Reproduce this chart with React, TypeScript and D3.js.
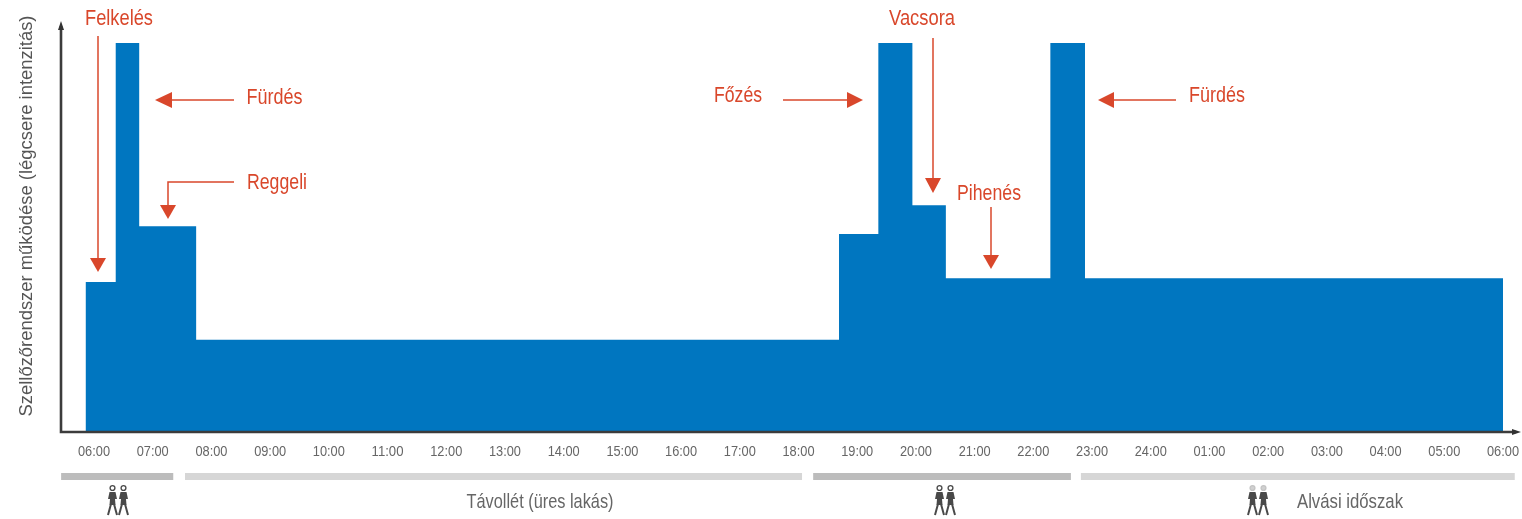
import React from "react";
import * as d3 from "d3";

// Hours after the 06:00 tick at which each level begins
const stepHours = [-0.14, 0.37, 0.77, 1.74, 12.69, 13.36, 13.94, 14.51, 16.29, 16.88, 24];
// Ventilation intensity, % of maximum
const stepLevels = [38.4, 100, 52.8, 23.5, 50.8, 100, 58.2, 39.4, 100, 39.4, 39.4];
const tickLabels = [
  "06:00", "07:00", "08:00", "09:00", "10:00", "11:00", "12:00", "13:00", "14:00", "15:00", "16:00", "17:00",
  "18:00", "19:00", "20:00", "21:00", "22:00", "23:00", "24:00", "01:00", "02:00", "03:00", "04:00", "05:00", "06:00",
];
const periodNames = ["present", "away", "present", "sleep"];
const periodStart = [-0.56, 1.55, 12.25, 16.81];
const periodEnd = [1.35, 12.06, 16.64, 24.2];

const BLUE = "#0076c0";
const RED = "#d9472b";
const FONT = "'Liberation Sans', sans-serif";

const x = d3.scaleLinear().domain([0, 24]).range([94, 1503]);
const y = d3.scaleLinear().domain([0, 100]).range([431, 43]);

function Person({ cx, light }: { cx: number; light?: boolean }) {
  const c = "#4a4a4a";
  return (
    <g transform={`translate(${cx},485)`}>
      <circle cx={0} cy={3} r={2.4} fill={light ? "#d0d0d0" : "#fff"} stroke={light ? "#c4c4c4" : c} strokeWidth={1.4} />
      <path d="M-3 7 H3 L4.5 14 L2.5 14 L3 20 H-3 L-2.5 14 L-4.5 14 Z" fill={c} />
      <path d="M-1.5 19 L-4.5 30 M1.5 19 L4.5 30" fill="none" stroke={c} strokeWidth={2} />
    </g>
  );
}

function Pair({ cx, light }: { cx: number; light?: boolean }) {
  return (
    <g>
      <Person cx={cx - 5.5} light={light} />
      <Person cx={cx + 5.5} light={light} />
    </g>
  );
}

function Arrow({ d, head }: { d: string; head: string }) {
  return (
    <g>
      <path d={d} fill="none" stroke={RED} strokeWidth={1.5} />
      <path d={head} fill={RED} />
    </g>
  );
}

function Note({ text, cx, cy, w }: { text: string; cx: number; cy: number; w: number }) {
  return (
    <text x={cx} y={cy + 8} textAnchor="middle" fontSize={22} fill={RED} textLength={w} lengthAdjust="spacingAndGlyphs">
      {text}
    </text>
  );
}

export default function App() {
  const data = stepHours.map((h, i) => ({ h, v: stepLevels[i] }));
  const area = d3
    .area<{ h: number; v: number }>()
    .x((d) => x(d.h))
    .y0(y(0))
    .y1((d) => y(d.v))
    .curve(d3.curveStepAfter);

  return (
    <svg
      width={1522}
      height={519}
      viewBox="0 0 1522 519"
      style={{ position: "absolute", left: 0, top: 0, background: "#fff" }}
      fontFamily={FONT}
    >
      <defs>
        <filter id="soft" x="-5%" y="-5%" width="110%" height="110%">
          <feGaussianBlur stdDeviation="0.5" />
        </filter>
      </defs>

      <path d={area(data) ?? ""} fill={BLUE} />

      {/* axes */}
      <path d="M61 26 V432 H1516" fill="none" stroke="#3c3c3c" strokeWidth={2.6} />
      <path d="M61 21 L58 30 H64 Z" fill="#333" />
      <path d="M1521 432 L1512 429 V435 Z" fill="#333" />

      <g filter="url(#soft)">
        <text
          transform="translate(32,216) rotate(-90)"
          textAnchor="middle"
          fontSize={18.5}
          fill="#555"
          textLength={401}
          lengthAdjust="spacingAndGlyphs"
        >
          Szellőzőrendszer működése (légcsere intenzitás)
        </text>

        {tickLabels.map((t, i) => (
          <text key={i} x={x(i)} y={456} textAnchor="middle" fontSize={14.5} fill="#666" textLength={32} lengthAdjust="spacingAndGlyphs">
            {t}
          </text>
        ))}

        <Note text="Felkelés" cx={119} cy={17} w={68} />
        <Note text="Fürdés" cx={274.5} cy={96} w={56} />
        <Note text="Reggeli" cx={277} cy={181} w={60} />
        <Note text="Főzés" cx={738} cy={94} w={48} />
        <Note text="Vacsora" cx={922} cy={17} w={66} />
        <Note text="Pihenés" cx={989} cy={192} w={64} />
        <Note text="Fürdés" cx={1217} cy={94} w={56} />

        <text x={540} y={508} textAnchor="middle" fontSize={21} fill="#666" textLength={147} lengthAdjust="spacingAndGlyphs">
          Távollét (üres lakás)
        </text>
        <text x={1350} y={508} textAnchor="middle" fontSize={21} fill="#666" textLength={106} lengthAdjust="spacingAndGlyphs">
          Alvási időszak
        </text>

        <Pair cx={118} />
        <Pair cx={945} />
        <Pair cx={1258} light />
      </g>

      {/* period bars */}
      {periodNames.map((n, i) => (
        <rect
          key={i}
          x={x(periodStart[i])}
          y={473}
          width={x(periodEnd[i]) - x(periodStart[i])}
          height={7}
          fill={n === "present" ? "#bcbcbc" : "#d6d6d6"}
        />
      ))}

      {/* annotation arrows */}
      <Arrow d="M98 36 V260" head="M90 258 H106 L98 272 Z" />
      <Arrow d="M234 100 H165" head="M155 100 L172 92 V108 Z" />
      <Arrow d="M234 182 H168 V208" head="M160 205 H176 L168 219 Z" />
      <Arrow d="M783 100 H852" head="M863 100 L847 92 V108 Z" />
      <Arrow d="M933 38 V182" head="M925 178 H941 L933 193 Z" />
      <Arrow d="M991 207 V258" head="M983 255 H999 L991 269 Z" />
      <Arrow d="M1176 100 H1108" head="M1098 100 L1114 92 V108 Z" />
    </svg>
  );
}
